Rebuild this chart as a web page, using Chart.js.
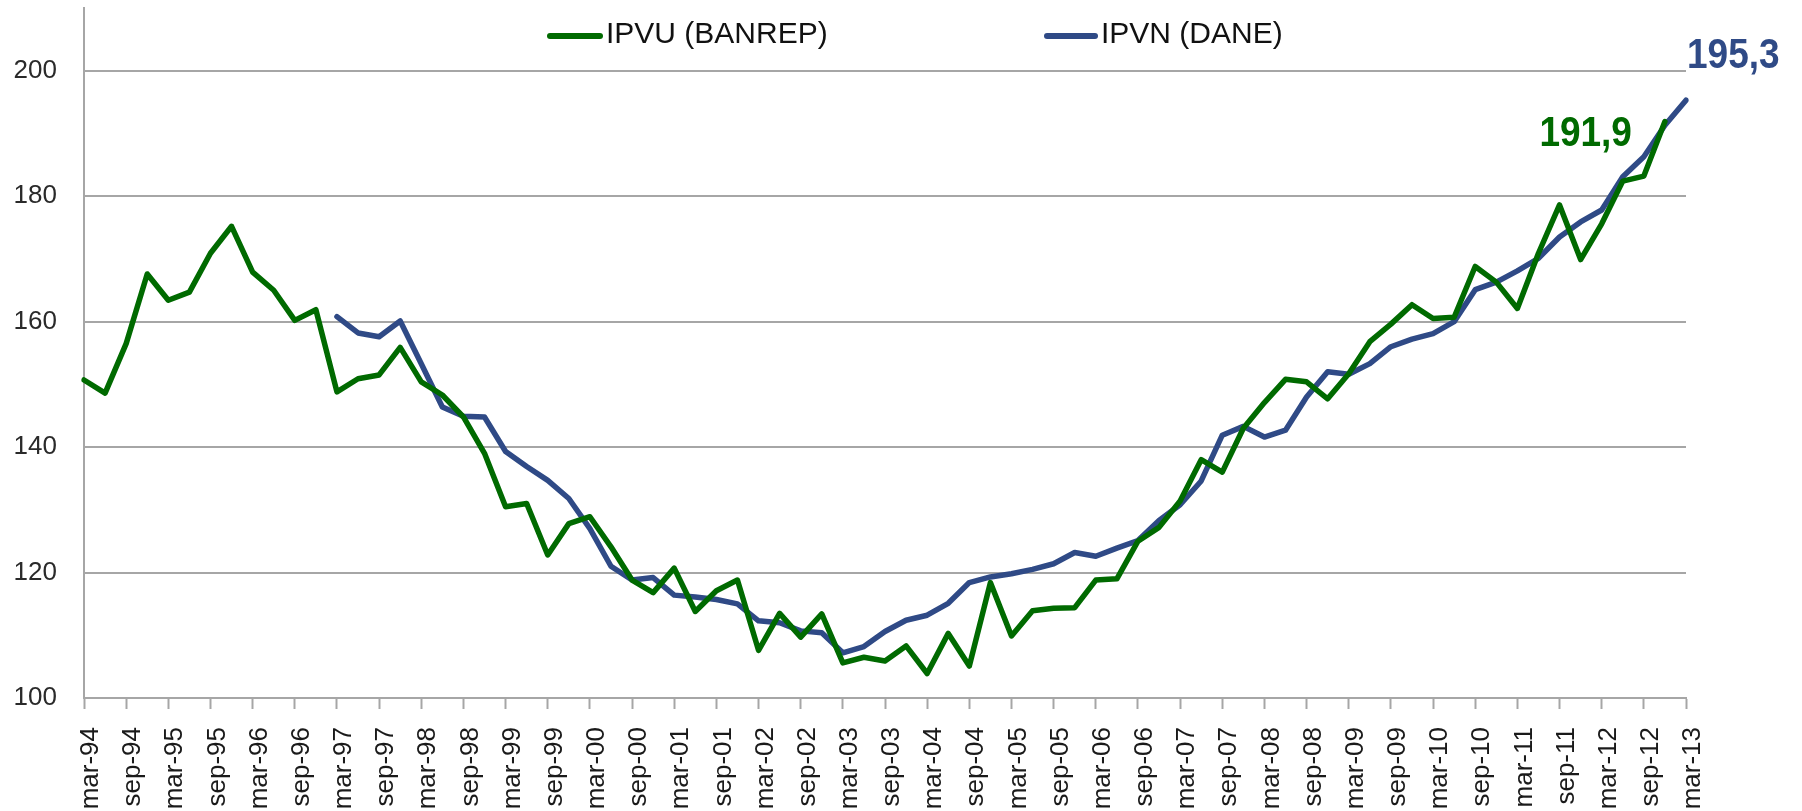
<!DOCTYPE html>
<html>
<head>
<meta charset="utf-8">
<title>IPVU vs IPVN</title>
<script src="https://cdn.jsdelivr.net/npm/chart.js@4.4.1/dist/chart.umd.min.js"></script>
<style>
  html, body { margin: 0; padding: 0; background: #fff; }
  canvas { display: block; }
</style>
</head>
<body>
<canvas id="chart" width="1802" height="811"></canvas>
<script>
// Quarterly index, mar-94 .. mar-13
var quarterMonths = ['mar', 'jun', 'sep', 'dic'];
var firstYear = 1994;
var lastYear = 2013;

var ipvu = [
  150.7, 148.6, 156.5, 167.6, 163.4, 164.7, 170.9, 175.2, 167.9, 165.0,
  160.2, 161.9, 148.8, 150.9, 151.5, 155.9, 150.4, 148.3, 144.8, 139.0,
  130.5, 131.0, 122.8, 127.8, 128.9, 124.1, 118.8, 116.8, 120.7, 113.8,
  117.1, 118.8, 107.6, 113.5, 109.7, 113.4, 105.6, 106.5, 105.9, 108.3,
  103.9, 110.3, 105.1, 118.4, 109.9, 113.9, 114.3, 114.4, 118.8, 119.0,
  125.0, 127.2, 131.4, 138.0, 136.0, 143.0, 147.1, 150.8, 150.4, 147.7,
  151.7, 156.8, 159.6, 162.7, 160.5, 160.7, 168.8, 166.3, 162.1, 170.9,
  178.6, 169.9, 175.6, 182.4, 183.2, 191.9, null
];

var ipvn = [
  null, null, null, null, null, null, null, null, null, null,
  null, null, 160.8, 158.2, 157.6, 160.1, 153.3, 146.4, 144.9, 144.8,
  139.3, 136.9, 134.7, 131.8, 127.0, 121.0, 118.8, 119.2, 116.4, 116.1,
  115.7, 115.0, 112.3, 112.0, 110.7, 110.4, 107.2, 108.2, 110.6, 112.4,
  113.2, 115.1, 118.4, 119.3, 119.8, 120.5, 121.4, 123.2, 122.6, 123.9,
  125.1, 128.3, 130.8, 134.6, 141.9, 143.3, 141.6, 142.7, 148.0, 152.0,
  151.6, 153.3, 156.0, 157.2, 158.1, 160.0, 165.1, 166.3, 168.1, 170.1,
  173.5, 175.9, 177.8, 183.1, 186.3, 191.3, 195.3
];

var yTicks = [100, 120, 140, 160, 180, 200];

var GREEN = '#006a00';
var BLUE = '#2f4a86';
var GRID = '#a6a6a6';

var quarters = [];
for (var y = firstYear; y <= lastYear; y++) {
  quarterMonths.forEach(function(m, q) {
    if (y === lastYear && q > 0) return;
    quarters.push(m + '-' + String(y).slice(2));
  });
}

function decimalComma(v) {
  return v.toFixed(1).replace('.', ',');
}

// the axes should not ask for extra room around the plot
function noScalePadding(scale) {
  scale.paddingTop = 0;
  scale.paddingBottom = 0;
  scale.paddingLeft = 0;
  scale.paddingRight = 0;
}

// Legend and end-of-series values, both sitting inside the plot area
var seriesNotes = {
  id: 'seriesNotes',
  afterDatasetsDraw: function(chart) {
    var ctx = chart.ctx;
    ctx.save();

    var legend = [
      { x1: 550, x2: 600, text: 'IPVU (BANREP)', color: GREEN },
      { x1: 1047, x2: 1095, text: 'IPVN (DANE)', color: BLUE }
    ];
    legend.forEach(function(item) {
      ctx.strokeStyle = item.color;
      ctx.lineWidth = 6;
      ctx.lineCap = 'round';
      ctx.beginPath();
      ctx.moveTo(item.x1, 36);
      ctx.lineTo(item.x2, 36);
      ctx.stroke();
      ctx.fillStyle = '#111';
      ctx.font = '30px "Liberation Sans", Arial, sans-serif';
      ctx.textAlign = 'left';
      ctx.textBaseline = 'middle';
      ctx.fillText(item.text, item.x2 + 6, 35);
    });

    chart.data.datasets.forEach(function(ds, i) {
      var last = -1;
      ds.data.forEach(function(v, k) { if (v !== null) last = k; });
      var pt = chart.getDatasetMeta(i).data[last];
      var label = decimalComma(ds.data[last]);
      ctx.fillStyle = ds.borderColor;
      ctx.font = 'bold 43px "Liberation Sans", Arial, sans-serif';
      ctx.textBaseline = 'alphabetic';
      ctx.save();
      if (i === 0) {
        ctx.translate(pt.x - 33, pt.y + 24);
        ctx.textAlign = 'right';
      } else {
        ctx.translate(pt.x + 1, pt.y - 32);
        ctx.textAlign = 'left';
      }
      ctx.scale(0.86, 1);
      ctx.fillText(label, 0, 0);
      ctx.restore();
    });

    ctx.restore();
  }
};

new Chart(document.getElementById('chart'), {
  type: 'line',
  data: {
    labels: quarters,
    datasets: [
      {
        label: 'IPVU (BANREP)',
        data: ipvu,
        borderColor: GREEN,
        borderWidth: 5.5,
        borderJoinStyle: 'round',
        borderCapStyle: 'round',
        pointRadius: 0,
        tension: 0,
        fill: false
      },
      {
        label: 'IPVN (DANE)',
        data: ipvn,
        borderColor: BLUE,
        borderWidth: 5.5,
        borderJoinStyle: 'round',
        borderCapStyle: 'round',
        pointRadius: 0,
        tension: 0,
        fill: false
      }
    ]
  },
  options: {
    responsive: false,
    animation: false,
    devicePixelRatio: 1,
    layout: { padding: { top: 8, right: 116, left: 0, bottom: 0 } },
    plugins: {
      legend: { display: false },
      tooltip: { enabled: false }
    },
    scales: {
      x: {
        type: 'category',
        offset: false,
        afterBuildTicks: function(scale) {
          // only mar / sep get a tick mark and a label
          scale.ticks = scale.ticks.filter(function(t) { return t.value % 2 === 0; });
        },
        afterFit: function(scale) {
          scale.height = 113;
          noScalePadding(scale);
        },
        grid: {
          drawOnChartArea: false,
          drawTicks: true,
          tickLength: 11,
          tickWidth: 2,
          color: GRID
        },
        border: { display: true, color: GRID, width: 2 },
        ticks: {
          autoSkip: false,
          minRotation: 90,
          maxRotation: 90,
          padding: 18,
          labelOffset: 7,
          color: '#1a1a1a',
          font: { family: '"Liberation Sans", Arial, sans-serif', size: 26 }
        }
      },
      y: {
        min: 100,
        max: 210,
        afterBuildTicks: function(scale) {
          scale.ticks = yTicks.map(function(v) { return { value: v }; });
        },
        afterFit: function(scale) {
          scale.width = 84;
          noScalePadding(scale);
        },
        grid: {
          drawTicks: false,
          color: GRID,
          lineWidth: 2
        },
        border: { display: true, color: GRID, width: 2 },
        ticks: {
          padding: 27,
          color: '#2a2a2a',
          font: { family: '"Liberation Sans", Arial, sans-serif', size: 26 }
        }
      }
    }
  },
  plugins: [seriesNotes]
});
</script>
</body>
</html>
